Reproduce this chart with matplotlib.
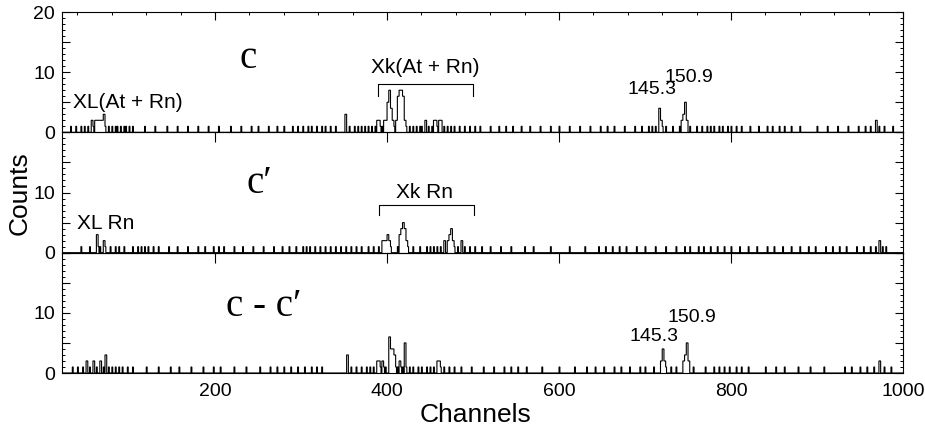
import numpy as np
import matplotlib
matplotlib.use("Agg")
import matplotlib.pyplot as plt
from matplotlib.ticker import MultipleLocator, FuncFormatter

plt.rcParams['font.family'] = ['Liberation Sans', 'DejaVu Sans']

# ---------------- data ----------------
# isolated single-count channels, and peak bins (2 channels wide) with their counts
c_ones = [32, 38, 44, 48, 52, 58, 72, 76, 80, 84, 86, 90, 94, 96, 100, 104, 118, 130,
          144, 156, 168, 180, 192, 204, 218, 230, 242, 250, 262, 272, 280, 290, 296,
          302, 308, 312, 318, 324, 328, 334, 340, 356, 362, 366, 370, 374, 378, 382,
          386, 392, 394, 408, 422, 426, 430, 434, 438, 440, 448, 452, 458, 466, 470,
          474, 478, 484, 490, 496, 502, 508, 520, 530, 538, 546, 556, 566, 578, 590,
          600, 612, 624, 636, 648, 656, 664, 676, 688, 696, 704, 708, 712, 720, 724,
          732, 740, 752, 760, 766, 772, 776, 780, 786, 790, 796, 800, 806, 812, 822,
          832, 842, 848, 856, 862, 870, 880, 900, 912, 924, 936, 948, 956, 962, 972,
          978, 988]
c_peak_ch = [56, 60, 62, 64, 66, 68, 70, 351, 388, 390, 396, 398, 400, 402, 404, 406,
             410, 412, 414, 416, 418, 420, 444, 454, 456, 460, 462, 716, 718, 742, 744,
             746, 748, 968]
c_peak_n = [2, 2, 2, 2, 2, 2, 3, 3, 2, 2, 2, 2, 5, 7, 4, 2, 2, 6, 7, 7, 6, 2, 2, 2, 2,
            2, 2, 4, 2, 2, 3, 5, 2, 2]

cp_ones = [44, 54, 64, 66, 72, 78, 84, 88, 94, 104, 110, 114, 118, 122, 128, 134, 146,
           156, 168, 180, 188, 198, 204, 210, 222, 232, 244, 256, 268, 278, 286, 294,
           302, 306, 310, 316, 322, 328, 334, 340, 346, 352, 358, 364, 370, 378, 384,
           390, 404, 412, 424, 430, 438, 446, 450, 454, 458, 462, 478, 482, 490, 496,
           502, 510, 520, 532, 544, 560, 570, 590, 612, 630, 646, 654, 662, 670, 678,
           690, 700, 712, 724, 736, 746, 752, 762, 768, 776, 784, 792, 800, 810, 820,
           830, 842, 850, 860, 870, 880, 890, 898, 910, 918, 926, 934, 946, 954, 962,
           968, 976, 980]
cp_peak_ch = [62, 70, 394, 396, 398, 400, 402, 414, 416, 418, 420, 422, 466, 470, 472,
              474, 476, 486, 972]
cp_peak_n = [3, 2, 2, 2, 2, 3, 2, 3, 4, 5, 4, 2, 2, 2, 3, 4, 2, 2, 2]

d_ones = [34, 40, 46, 54, 62, 70, 76, 80, 84, 88, 92, 98, 104, 120, 134, 148, 158, 172,
          186, 198, 206, 222, 236, 252, 264, 272, 280, 288, 296, 304, 312, 318, 324,
          358, 364, 370, 376, 380, 384, 392, 396, 398, 410, 412, 416, 418, 422, 426,
          430, 436, 440, 446, 450, 454, 462, 466, 472, 478, 486, 498, 512, 524, 536,
          544, 552, 562, 580, 600, 618, 632, 642, 652, 664, 672, 682, 694, 700, 710,
          724, 730, 736, 756, 770, 780, 786, 792, 798, 806, 812, 820, 840, 852, 862,
          878, 892, 908, 932, 940, 950, 958, 966, 978, 986]
d_peak_ch = [50, 58, 66, 72, 353, 388, 390, 394, 402, 404, 406, 408, 414, 420, 458, 460,
             718, 720, 722, 744, 746, 748, 750, 972]
d_peak_n = [2, 2, 2, 3, 3, 2, 2, 2, 6, 4, 4, 3, 2, 5, 2, 2, 2, 4, 2, 2, 3, 5, 2, 2]

x_ticks = [200, 400, 600, 800, 1000]
panel_names = ["c", "c\u2032", "c - c\u2032"]

# ---------------- figure ----------------
X0, X1 = 22, 1000
edges = np.arange(X0, X1 + 1, 1)


def build(ones, peak_ch, peak_n):
    counts = np.zeros(len(edges) - 1)
    for ch in ones:
        counts[ch - X0] = 1
    for ch, n in zip(peak_ch, peak_n):
        counts[ch - X0] = n
        counts[ch - X0 + 1] = n
    return counts


series = [build(c_ones, c_peak_ch, c_peak_n),
          build(cp_ones, cp_peak_ch, cp_peak_n),
          build(d_ones, d_peak_ch, d_peak_n)]

fig = plt.figure(figsize=(9.25, 4.32), dpi=100)
left, width = 62 / 925, (903 - 62) / 925
h = 120.33 / 432
bottom0 = 1 - 373 / 432
axes = []
for i in range(3):
    b = bottom0 + (2 - i) * h
    ax = fig.add_axes([left, b, width, h])
    axes.append(ax)

serif = ['Liberation Serif', 'DejaVu Serif']

for i, (ax, counts) in enumerate(zip(axes, series)):
    ax.stairs(counts, edges, color='black', lw=0.8, baseline=0)
    ax.set_xlim(X0, X1)
    ax.set_ylim(0, 20)
    for s in ax.spines.values():
        s.set_linewidth(0.8)
    ax.xaxis.set_major_locator(MultipleLocator(200))
    ax.xaxis.set_minor_locator(MultipleLocator(40))
    ax.yaxis.set_major_locator(MultipleLocator(5))
    ax.yaxis.set_minor_locator(MultipleLocator(1))
    shown = {0, 10, 20} if i == 0 else {0, 10}
    ax.yaxis.set_major_formatter(FuncFormatter(
        lambda v, p, shown=shown: f"{int(round(v))}" if int(round(v)) in shown else ""))
    ax.tick_params(axis='y', which='both', direction='in', left=True, right=True,
                   labelsize=14, pad=5)
    ax.tick_params(axis='y', which='major', length=6, width=0.8)
    ax.tick_params(axis='y', which='minor', length=2.2, width=0.7)
    ax.tick_params(axis='x', which='both', direction='in', top=True, bottom=False,
                   labelbottom=(i == 2), labelsize=14, pad=7)
    ax.tick_params(axis='x', which='major', length=7.5 if i else 6, width=0.8)
    if i == 0:
        ax.tick_params(axis='x', which='minor', length=2.2, width=0.7)
    else:
        ax.tick_params(axis='x', which='minor', top=False, length=0)
    if i == 2:
        ax.set_xticks(x_ticks)
    ax.set_facecolor('none')

# panel labels
axes[0].text(238, 12.3, panel_names[0], family=serif, fontsize=28, ha='center', va='center')
axes[1].text(252, 11.5, panel_names[1], family=serif, fontsize=28, ha='center', va='center')
axes[2].text(257, 11.0, panel_names[2], family=serif, fontsize=28, ha='center', va='center')

# annotations
axes[0].text(35, 5, "XL(At + Rn)", fontsize=15, ha='left', va='center')
axes[0].text(445, 10.8, "Xk(At + Rn)", fontsize=15, ha='center', va='center')
axes[0].plot([389, 389, 500, 500], [6, 8, 8, 6], color='black', lw=0.8)
axes[0].text(708, 7.1, "145.3", fontsize=14, ha='center', va='center')
axes[0].text(751, 9.1, "150.9", fontsize=14, ha='center', va='center')

axes[1].text(40, 4.8, "XL Rn", fontsize=15, ha='left', va='center')
axes[1].text(444, 10.0, "Xk Rn", fontsize=15, ha='center', va='center')
axes[1].plot([391, 391, 501, 501], [6.2, 8, 8, 6.2], color='black', lw=0.8)

axes[2].text(710, 6.0, "145.3", fontsize=14, ha='center', va='center')
axes[2].text(754, 9.3, "150.9", fontsize=14, ha='center', va='center')

fig.text(20 / 925, 1 - 193 / 432, "Counts", rotation=90, fontsize=19,
         ha='center', va='center')
fig.text(476 / 925, 1 - 415 / 432, "Channels", fontsize=19, ha='center', va='center')

fig.savefig("out.png", dpi=100)
